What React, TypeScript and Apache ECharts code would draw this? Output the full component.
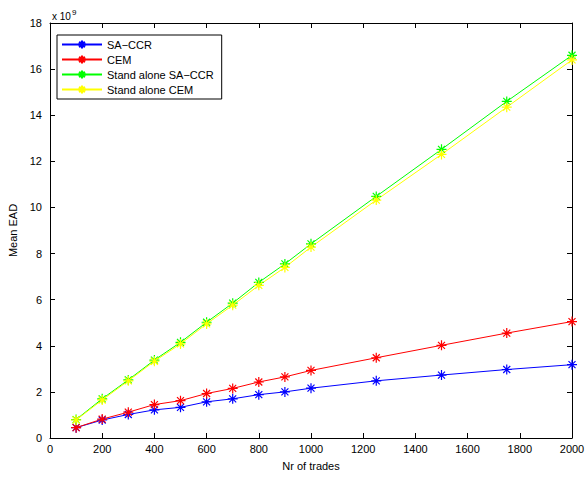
import { useEffect, useRef } from "react";
import * as echarts from "echarts";

const trades = [100, 200, 300, 400, 500, 600, 700, 800, 900, 1000, 1250, 1500, 1750, 2000];
const saCcr = [0.45, 0.78, 1.02, 1.22, 1.33, 1.57, 1.7, 1.88, 2.0, 2.16, 2.48, 2.73, 2.97, 3.18];
const cem = [0.45, 0.82, 1.12, 1.45, 1.62, 1.93, 2.15, 2.43, 2.65, 2.93, 3.48, 4.02, 4.55, 5.05];
const standSaCcr = [0.8, 1.7, 2.52, 3.38, 4.15, 5.02, 5.85, 6.75, 7.55, 8.42, 10.48, 12.52, 14.6, 16.6];
const standCem = [0.78, 1.65, 2.48, 3.33, 4.08, 4.95, 5.76, 6.62, 7.4, 8.28, 10.32, 12.3, 14.35, 16.4];

const seriesDefs = [
  { name: "SA\u2212CCR", data: saCcr, color: "#0000ff" },
  { name: "CEM", data: cem, color: "#ff0000" },
  { name: "Stand alone SA\u2212CCR", data: standSaCcr, color: "#00ff00" },
  { name: "Stand alone CEM", data: standCem, color: "#ffff00" },
];

const star = "path://M0,-5L0,5M-5,0L5,0M-3.5,-3.5L3.5,3.5M-3.5,3.5L3.5,-3.5";
const font = "Liberation Sans, Arial, sans-serif";

export default function App() {
  const ref = useRef<HTMLDivElement>(null);

  useEffect(() => {
    if (!ref.current) return;
    const chart = echarts.init(ref.current, null, { renderer: "svg" });
    const axisCommon = {
      type: "value" as const,
      axisLine: { show: true, onZero: false, lineStyle: { color: "#000" } },
      axisTick: { show: true, inside: true, length: 5, lineStyle: { color: "#000" } },
      splitLine: { show: false },
    };
    chart.setOption({
      animation: false,
      textStyle: { fontFamily: font },
      grid: { left: 50, right: 14, top: 23, bottom: 40, containLabel: false, outerBoundsMode: "none" },
      legend: {
        orient: "vertical",
        left: 57,
        top: 35,
        itemWidth: 40,
        itemHeight: 10,
        itemGap: 4,
        padding: [4, 8, 4, 4],
        borderColor: "#000",
        borderWidth: 1,
        backgroundColor: "#fff",
        textStyle: { fontSize: 11, color: "#000", fontFamily: font },
        data: seriesDefs.map((s) => s.name),
      },
      xAxis: [
        {
          ...axisCommon,
          min: 0,
          max: 2000,
          interval: 200,
          name: "Nr of trades",
          nameLocation: "middle",
          nameGap: 22,
          nameTextStyle: { fontSize: 11, color: "#000" },
          axisLabel: { fontSize: 11, color: "#000", margin: 5, formatter: (v: number) => String(v) },
        },
        { ...axisCommon, position: "top", min: 0, max: 2000, interval: 200, axisLabel: { show: false } },
      ],
      yAxis: [
        {
          ...axisCommon,
          min: 0,
          max: 18,
          interval: 2,
          name: "Mean EAD",
          nameLocation: "middle",
          nameGap: 27,
          nameTextStyle: { fontSize: 11, color: "#000" },
          axisLabel: { fontSize: 11, color: "#000", margin: 8 },
        },
        { ...axisCommon, position: "right", min: 0, max: 18, interval: 2, axisLabel: { show: false } },
      ],
      graphic: [
        {
          type: "text",
          left: 52,
          top: 11,
          style: { text: "x 10", fontSize: 10, fill: "#000", fontFamily: font },
        },
        {
          type: "text",
          left: 72,
          top: 8,
          style: { text: "9", fontSize: 8, fill: "#000", fontFamily: font },
        },
      ],
      series: seriesDefs.map((s) => ({
        name: s.name,
        type: "line",
        data: trades.map((t, i) => [t, s.data[i]]),
        symbol: star,
        symbolSize: 10,
        lineStyle: { color: s.color, width: 1 },
        itemStyle: { color: s.color, borderColor: s.color, borderWidth: 1.2 },
      })),
    });
    return () => chart.dispose();
  }, []);

  return (
    <div
      ref={ref}
      style={{ position: "absolute", left: 0, top: 0, width: 586, height: 478, background: "#fff" }}
    />
  );
}
